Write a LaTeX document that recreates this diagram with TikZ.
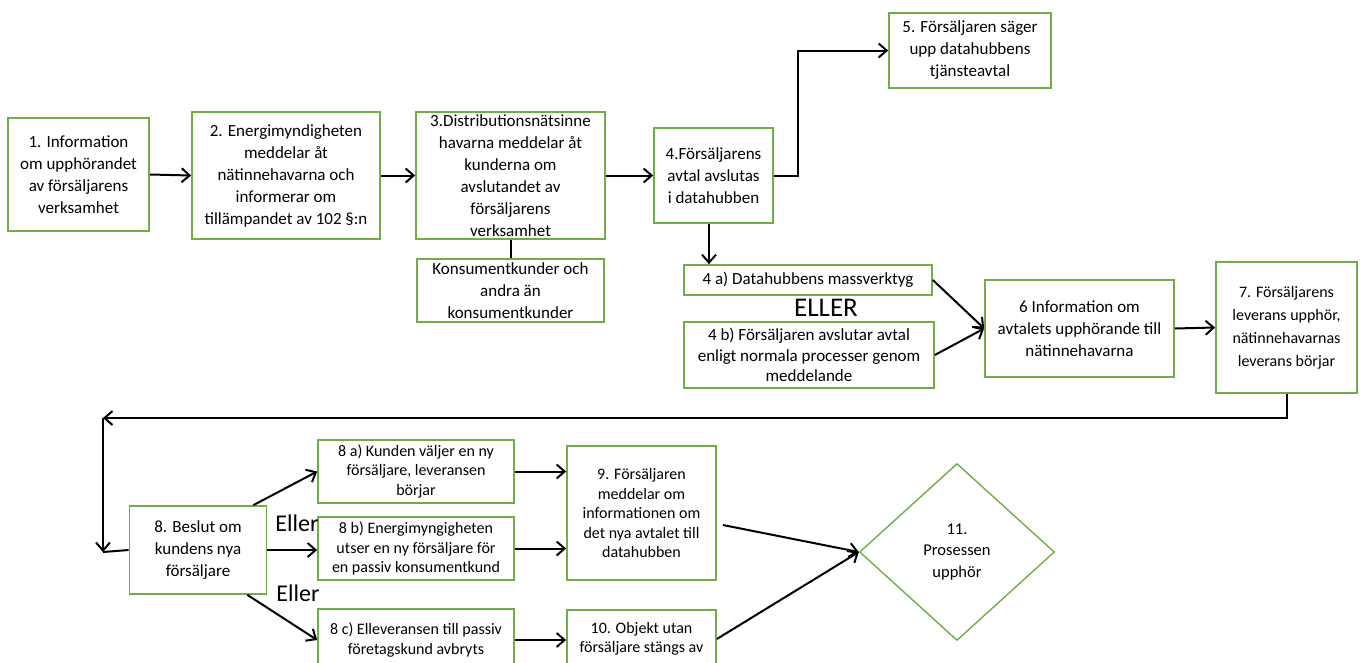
\documentclass[tikz,border=0pt]{standalone}
\usepackage{fontspec}
\setmainfont{Carlito}
\usetikzlibrary{arrows.meta,shapes.geometric,calc}
\definecolor{boxgreen}{RGB}{112,173,71}
\tikzset{
  box/.style={draw=boxgreen, line width=1.7pt, fill=white, align=center, inner sep=0pt, rectangle},
  fbig/.style={font=\fontsize{17}{22}\selectfont},
  fmid/.style={font=\fontsize{17}{20.5}\selectfont},
  fsmall/.style={font=\fontsize{16}{19.2}\selectfont},
  conn/.style={line width=2pt, -{Straight Barb[length=8pt,width=14pt,line width=2pt]}},
  plain/.style={line width=2pt},
  orlabel/.style={inner sep=0pt}
}
\begin{document}
\begin{tikzpicture}[x=1pt,y=-1pt]
\useasboundingbox (0,0) rectangle (1363,662);
\clip (0,0) rectangle (1363,662);
% top row
\node[box,fbig,minimum width=141pt,minimum height=113pt] (n1) at (78.5,174.5) {1. Information\\om upphörandet\\av försäljarens\\verksamhet};
\node[box,fbig,minimum width=188pt,minimum height=127pt] (n2) at (286,175.5) {2. Energimyndigheten\\meddelar åt\\nätinnehavarna och\\informerar om\\tillämpandet av 102 §:n};
\node[box,fbig,minimum width=189pt,minimum height=127pt] (n3) at (510.5,175.5) {3.Distributionsnätsinne\\havarna meddelar åt\\kunderna om\\avslutandet av\\försäljarens\\verksamhet};
\node[box,fbig,minimum width=187pt,minimum height=63pt] (nk) at (510.5,290.5) {Konsumentkunder och\\andra än\\konsumentkunder};
\node[box,fbig,minimum width=119pt,minimum height=95pt] (n4) at (713.5,175.5) {4.Försäljarens\\avtal avslutas\\i datahubben};
\node[box,fbig,minimum width=162pt,minimum height=75pt] (n5) at (970,50.5) {5. Försäljaren säger\\upp datahubbens\\tjänsteavtal};
\node[box,fmid,minimum width=248pt,minimum height=30pt] (n4a) at (808,280) {4 a) Datahubbens massverktyg};
\node[orlabel,font=\fontsize{27}{30}\selectfont] (eller1) at (826,308) {ELLER};
\node[box,fmid,minimum width=250pt,minimum height=66pt] (n4b) at (809,355) {4 b) Försäljaren avslutar avtal\\enligt normala processer genom\\meddelande};
\node[box,fmid,font=\fontsize{17}{22}\selectfont,minimum width=189pt,minimum height=97pt] (n6) at (1079.5,328.5) {6 Information om\\avtalets upphörande till\\nätinnehavarna};
\node[box,font=\fontsize{16}{23}\selectfont,minimum width=141pt,minimum height=131pt] (n7) at (1286.5,327.5) {7. Försäljarens\\leverans upphör,\\nätinnehavarnas\\leverans börjar};
% bottom row
\node[box,fbig,minimum width=137pt,minimum height=88pt] (n8) at (198,550) {8. Beslut om\\kundens nya\\försäljare};
\node[box,fsmall,minimum width=196pt,minimum height=63pt] (n8a) at (416,471.5) {8 a) Kunden väljer en ny\\försäljare, leveransen\\börjar};
\node[box,fsmall,minimum width=196pt,minimum height=63pt] (n8b) at (416,548.5) {8 b) Energimyngigheten\\utser en ny försäljare för\\en passiv konsumentkund};
\node[box,fsmall,minimum width=196pt,minimum height=62pt] (n8c) at (416,640) {8 c) Elleveransen till passiv\\företagskund avbryts};
\node[orlabel,font=\fontsize{24}{28}\selectfont] (eller2) at (297,523) {Eller};
\node[orlabel,font=\fontsize{24}{28}\selectfont] (eller3) at (298,593) {Eller};
\node[box,font=\fontsize{16}{19.5}\selectfont,minimum width=149pt,minimum height=134pt] (n9) at (641.5,513) {9. Försäljaren\\meddelar om\\informationen om\\det nya avtalet till\\datahubben};
\node[box,font=\fontsize{16}{19.5}\selectfont,minimum width=149pt,minimum height=58pt] (n10) at (641.5,639) {10. Objekt utan\\försäljare stängs av};
\node[box,diamond,aspect=1.1,font=\fontsize{16.5}{21.5}\selectfont,draw=boxgreen,line width=1.4pt,minimum width=195pt,minimum height=177pt] (n11) at (957,552) {11.\\Prosessen\\upphör};
% coordinates
\coordinate (c0) at (798,176);
\coordinate (c1) at (103,418);
\coordinate (c2) at (103,552);
% connectors
\draw[conn] (n1.east) -- (n2.west);
\draw[conn] (n2.east) -- (n3.west);
\draw[plain] (n3.south) -- (nk.north);
\draw[conn] (n3.east) -- (n4.west);
\draw[conn] (n4.east |- c0) -- (c0) |- (n5.west);
\draw[conn] ([xshift=-4.5pt]n4.south) -- ([xshift=-4.5pt]n4.south |- n4a.north);
\draw[conn] (n4a.east) -- (n6.west);
\draw[conn] (n4b.east) -- (n6.west);
\draw[conn] (n6.east) -- (n7.west);
\draw[conn] (n7.south) |- (c1);
\draw[conn] (c1) -- (c2);
\draw[plain] (n8.west) -- (c2);
\draw[conn] ([xshift=-14pt]n8.north east) -- (n8a.west);
\draw[conn] (n8.east) -- (n8.east -| n8b.west);
\draw[conn] ([xshift=-20pt]n8.south east) -- (n8c.west);
\draw[conn] (n8a.east) -- (n8a.east -| n9.west);
\draw[conn] (n8b.east) -- (n8b.east -| n9.west);
\draw[conn] (n8c.east) -- (n8c.east -| n10.west);
\draw[conn] ([xshift=6pt,yshift=-12pt]n9.east) -- (n11.west);
\draw[conn] (n10.east) -- (n11.west);
\end{tikzpicture}
\end{document}
